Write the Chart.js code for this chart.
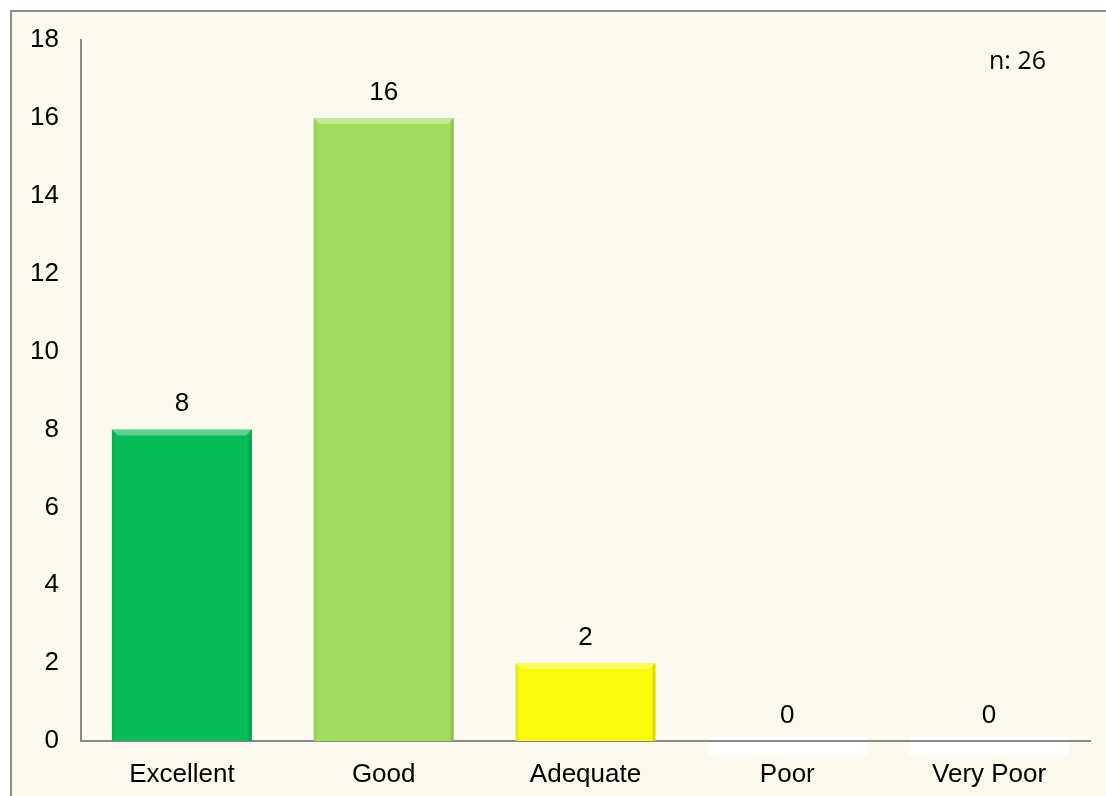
<!DOCTYPE html>
<html>
<head>
<meta charset="utf-8">
<script src="https://cdn.jsdelivr.net/npm/chart.js@4.4.0/dist/chart.umd.min.js"></script>
<style>
    body { margin: 0; background: #fff; }
    #box {
        position: absolute; left: 10px; top: 10px;
        width: 1094px; height: 784px;
        border-left: 2px solid #8c8c8c; border-top: 2px solid #8c8c8c;
        background: #fef9ef;
    }
    #barChart { display: block; }
</style>
</head>
<body>
<div id="box"><canvas id="barChart" width="1094" height="784"></canvas></div>
<script>
// DATA
const categories = ["Excellent", "Good", "Adequate", "Poor", "Very Poor"]
const counts = [8, 16, 2, 0, 0]
const barColors = ["#07bb58", "#a1dd5d", "#fafa0a", "#ffffff", "#ffffff"]
const sampleNote = "n: 26"

const labelFont = "'Liberation Sans', Arial, sans-serif"

// bevel + value labels + white slabs for zero bars
const bevelPlugin = {
    id: "bevel",
    beforeDraw(chart) {
        const ctx = chart.ctx
        const meta = chart.getDatasetMeta(0)
        meta.data.forEach(function(bar, i) {
            if (counts[i] !== 0) return
            const w = bar.width * 1.14
            ctx.save()
            ctx.fillStyle = "#ffffff"
            ctx.fillRect(bar.x - w / 2, bar.base - 4, w, 18)
            ctx.restore()
        })
    },
    afterDatasetsDraw(chart) {
        const ctx = chart.ctx
        const meta = chart.getDatasetMeta(0)
        meta.data.forEach(function(bar, i) {
            if (counts[i] === 0) return
            const x0 = bar.x - bar.width / 2, x1 = bar.x + bar.width / 2
            const top = bar.y, bottom = bar.base, b = 6
            ctx.save()
            ctx.fillStyle = "rgba(255,255,255,0.35)"
            ctx.beginPath()
            ctx.moveTo(x0, top); ctx.lineTo(x1, top); ctx.lineTo(x1 - b, top + b); ctx.lineTo(x0 + b, top + b)
            ctx.closePath(); ctx.fill()
            ctx.fillStyle = "rgba(0,0,0,0.06)"
            ctx.beginPath()
            ctx.moveTo(x0, top); ctx.lineTo(x0 + 3, top + 3); ctx.lineTo(x0 + 3, bottom); ctx.lineTo(x0, bottom)
            ctx.closePath(); ctx.fill()
            ctx.fillStyle = "rgba(0,0,0,0.12)"
            ctx.beginPath()
            ctx.moveTo(x1, top); ctx.lineTo(x1 - 3, top + 3); ctx.lineTo(x1 - 3, bottom); ctx.lineTo(x1, bottom)
            ctx.closePath(); ctx.fill()
            ctx.restore()
        })
        // value labels
        ctx.save()
        ctx.font = "26px " + labelFont
        ctx.fillStyle = "#000"
        ctx.textAlign = "center"
        ctx.textBaseline = "alphabetic"
        meta.data.forEach(function(bar, i) {
            ctx.fillText(String(counts[i]), bar.x, bar.y - 18)
        })
        // n label
        ctx.font = "25px 'Open Sans', sans-serif"
        ctx.textAlign = "right"
        ctx.fillText(sampleNote, 1034, 57)
        ctx.restore()
    }
}

const chart = document.getElementById("barChart")
let barChart = new Chart(chart, {
    type: "bar",
    data: {
        labels: categories,
        datasets: [{
            data: counts,
            backgroundColor: barColors,
            borderWidth: 0,
            categoryPercentage: 1,
            barPercentage: 0.694
        }]
    },
    options: {
        responsive: false,
        animation: false,
        layout: { padding: { left: 20, right: 16, top: 28, bottom: 0 } },
        plugins: {
            legend: { display: false },
            tooltip: { enabled: false }
        },
        scales: {
            x: {
                afterFit(scale) { scale.height = 55 },
                grid: { display: false, drawTicks: false },
                border: { display: true, color: "#8a8a8a", width: 2 },
                ticks: {
                    color: "#000",
                    padding: 18,
                    font: { family: labelFont, size: 26 }
                }
            },
            y: {
                min: 0,
                max: 18,
                afterFit(scale) {
                    scale.width = 49
                    scale.paddingTop = 14
                    scale.paddingBottom = 14
                },
                grid: { display: false, drawTicks: false },
                border: { display: true, color: "#8a8a8a", width: 2 },
                ticks: {
                    stepSize: 2,
                    color: "#000",
                    padding: 22,
                    font: { family: labelFont, size: 26 }
                }
            }
        }
    },
    plugins: [bevelPlugin]
})
</script>
</body>
</html>
